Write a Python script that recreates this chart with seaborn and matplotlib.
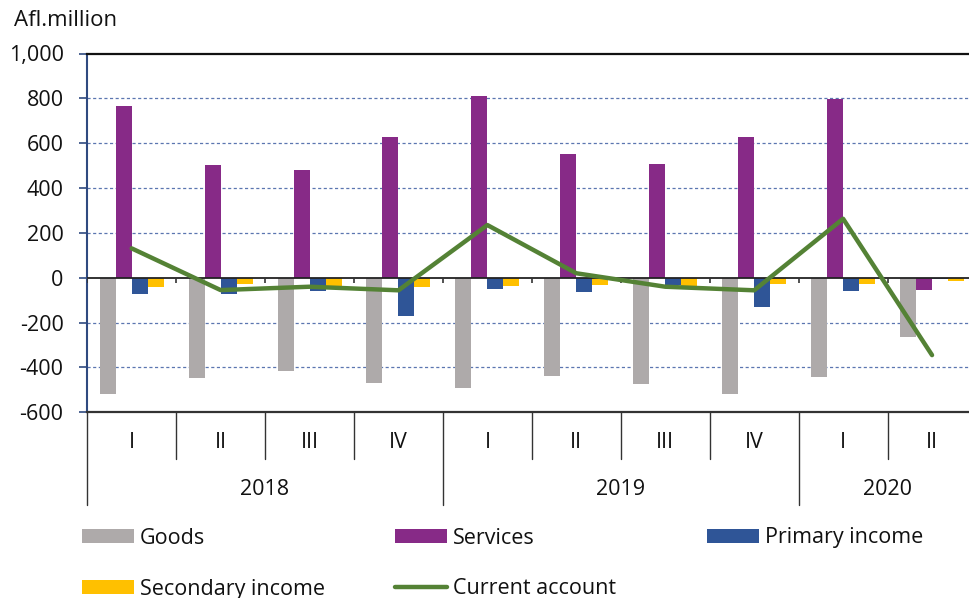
import numpy as np
import pandas as pd
import matplotlib
matplotlib.use("Agg")
import matplotlib.pyplot as plt
import matplotlib.transforms as mtransforms
from matplotlib.patches import Patch
from matplotlib.lines import Line2D
from matplotlib.ticker import FuncFormatter
import seaborn as sns

# ---- data ----
quarters = ["I", "II", "III", "IV", "I", "II", "III", "IV", "I", "II"]
years = ["2018", "2019", "2020"]
year_counts = [4, 4, 2]
goods = [-517, -449, -417, -470, -493, -438, -473, -517, -444, -263]
services = [766, 501, 479, 629, 812, 552, 507, 627, 795, -55]
primary_income = [-73, -73, -58, -169, -50, -62, -33, -132, -58, -7]
secondary_income = [-43, -30, -37, -43, -36, -33, -37, -30, -27, -13]
current_account = [131, -55, -40, -56, 235, 20, -40, -56, 263, -345]
series_names = ["Goods", "Services", "Primary income", "Secondary income"]
line_name = "Current account"
y_ticks = [-600, -400, -200, 0, 200, 400, 600, 800, 1000]
unit_label = "Afl.million"

colors = {"Goods": "#AEAAAA", "Services": "#872A87", "Primary income": "#2F5597",
          "Secondary income": "#FFC000"}
line_color = "#548235"

period_year = [y for y, n in zip(years, year_counts) for _ in range(n)]
periods = [f"{y} {q}" for y, q in zip(period_year, quarters)]
df = pd.DataFrame({"period": periods * 4,
                   "series": np.repeat(series_names, len(periods)),
                   "value": goods + services + primary_income + secondary_income})

sns.set_theme(style="white")
plt.rcParams["font.family"] = ["Open Sans", "DejaVu Sans"]
FS = 15.5

fig = plt.figure(figsize=(9.7, 5.98), dpi=100)
W, H = 970, 598
left, right, top, bottom = 87.2, 976.5, 53.5, 412.3
ax = fig.add_axes([left / W, 1 - bottom / H, (right - left) / W, (bottom - top) / H])

sns.barplot(data=df, x="period", y="value", hue="series", order=periods,
            hue_order=series_names, palette=colors, width=0.72, dodge=True,
            saturation=1, linewidth=0, legend=False, ax=ax, zorder=2)
sns.lineplot(x=np.arange(len(periods)), y=current_account, color=line_color,
             linewidth=3.2, ax=ax, zorder=5, legend=False)

ax.set_xlim(-0.5, len(periods) - 0.5)
ax.set_ylim(y_ticks[0], y_ticks[-1])
ax.set_yticks(y_ticks)
ax.yaxis.set_major_formatter(FuncFormatter(lambda v, p: f"{int(v):,}"))
ax.tick_params(axis="y", direction="out", length=6, width=1.2, color="#2F4A80",
               pad=11, labelsize=FS, labelcolor="#111111", left=True)
ax.set_xticks([])
ax.set_xlabel("")
ax.set_ylabel("")

# grid
for v in y_ticks[1:-1]:
    if v != 0:
        ax.axhline(v, color="#5B76B0", lw=0.9, ls=(0, (2.5, 2)), zorder=1)

# spines
ax.spines["left"].set_color("#2F4A80")
ax.spines["left"].set_linewidth(1.5)
ax.spines["top"].set_color("#111111")
ax.spines["top"].set_linewidth(1.6)
ax.spines["bottom"].set_color("#333333")
ax.spines["bottom"].set_linewidth(1.6)
ax.spines["right"].set_visible(False)

# zero line with small ticks
ax.axhline(0, color="#222222", lw=1.3, zorder=4)
ax.vlines(np.arange(-0.5, len(periods)), -22, 0, color="#333333", lw=1.2, zorder=4)

# multi-level category labels
trans = mtransforms.blended_transform_factory(ax.transData, ax.transAxes)
ph = bottom - top
q_sep = -(459.3 - bottom) / ph
y_sep = -(505 - bottom) / ph
q_lab = -(443 - bottom) / ph
y_lab = -(490 - bottom) / ph
for i, q in enumerate(quarters):
    ax.text(i, q_lab, q, transform=trans, ha="center", va="center", fontsize=FS,
            color="#111111")
bounds = np.cumsum([0] + year_counts)
for b in range(len(periods) + 1):
    is_year = b in bounds
    ax.add_line(Line2D([b - 0.5, b - 0.5], [0, y_sep if is_year else q_sep],
                       transform=trans, color="#333333", lw=1.0, clip_on=False))
for y, s, n in zip(years, bounds[:-1], year_counts):
    ax.text(s + n / 2 - 0.5, y_lab, y, transform=trans, ha="center", va="center",
            fontsize=FS, color="#111111")

fig.text(14 / W, 1 - 21 / H, unit_label, ha="left", va="center", fontsize=16,
         color="#111111")

# legend entries placed individually
entries = [("Goods", 82, 538), ("Services", 395, 538), ("Primary income", 707, 538),
           ("Secondary income", 82, 589)]
for name, x, y in entries:
    h = Patch(facecolor=colors[name], edgecolor="none", label=name)
    lg = fig.legend(handles=[h], loc="center left", bbox_to_anchor=(x / W, 1 - y / H),
                    frameon=False, fontsize=FS, handlelength=2.4, handleheight=0.66,
                    handletextpad=0.3, borderpad=0, borderaxespad=0)
    lg.get_texts()[0].set_color("#111111")
lh = Line2D([], [], color=line_color, lw=3.2, label=line_name)
lg = fig.legend(handles=[lh], loc="center left", bbox_to_anchor=(395 / W, 1 - 589 / H),
                frameon=False, fontsize=FS, handlelength=2.4, handletextpad=0.3,
                borderpad=0, borderaxespad=0)
lg.get_texts()[0].set_color("#111111")

fig.savefig("out.png", dpi=100)
